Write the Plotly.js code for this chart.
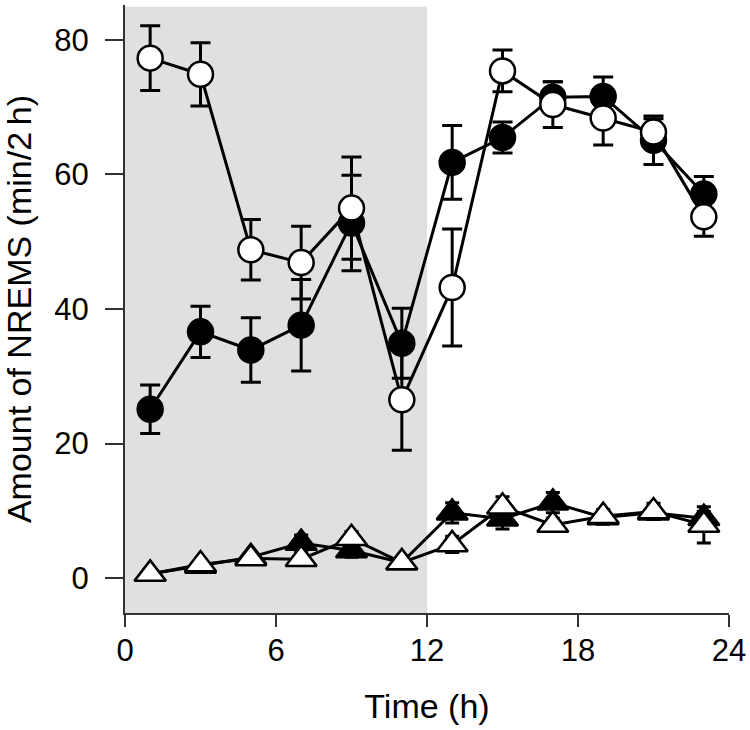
<!DOCTYPE html>
<html>
<head>
<meta charset="utf-8">
<script src="https://cdn.plot.ly/plotly-3.0.1.min.js"></script>
<style>
  body { margin: 0; background: #fff; }
  #plot { width: 750px; height: 730px; }
</style>
</head>
<body>
<div id="plot"></div>
<script>
// Time points (h), centre of each 2 h bin
const time = [1, 3, 5, 7, 9, 11, 13, 15, 17, 19, 21, 23];

// NREMS, filled circles
const nremsFilled = [25.1, 36.6, 33.9, 37.6, 52.8, 34.9, 61.8, 65.5, 71.5, 71.6, 65.1, 57.1];
const nremsFilledErr = [3.6, 3.8, 4.8, 6.8, 7.1, 5.2, 5.5, 2.3, 2.3, 2.9, 3.6, 2.6];

// NREMS, open circles
const nremsOpen = [77.3, 74.9, 48.8, 46.9, 55.0, 26.5, 43.2, 75.4, 70.4, 68.4, 66.3, 53.7];
const nremsOpenErr = [4.8, 4.7, 4.5, 5.4, 7.6, 7.5, 8.7, 3.1, 3.4, 4.0, 2.0, 2.9];

// REMS, filled triangles
const remsFilled = [0.6, 1.8, 3.1, 5.2, 4.1, 2.3, 9.7, 8.8, 11.2, 9.0, 9.7, 8.9];
const remsFilledErr = [0.4, 0.5, 0.6, 1.2, 1.0, 0.6, 1.5, 1.5, 1.5, 1.0, 1.0, 1.0];

// REMS, open triangles
const remsOpen = [0.6, 2.0, 2.9, 2.8, 5.9, 2.3, 5.0, 10.6, 7.9, 9.2, 9.9, 7.9];
const remsOpenErr = [0.3, 0.5, 0.6, 0.8, 1.0, 0.6, 1.2, 1.5, 1.0, 1.0, 1.2, 2.7];

const yTicks = [0, 20, 40, 60, 80];
const xTicks = [0, 6, 12, 18, 24];

const font = 'Liberation Sans, Arial, sans-serif';

function series(y, err, symbol, fill, size, capWidth) {
    return {
        x: time,
        y: y,
        type: 'scatter',
        mode: 'lines+markers',
        line: {color: '#000', width: 3},
        marker: {
            symbol: symbol,
            size: size,
            color: fill,
            line: {color: '#000', width: 2.5}
        },
        error_y: {
            type: 'data',
            array: err,
            visible: true,
            color: '#000',
            thickness: 3,
            width: capWidth
        },
        cliponaxis: false,
        hoverinfo: 'skip'
    };
}

const data = [
    series(remsFilled, remsFilledErr, 'triangle-up', '#000', 27, 7),
    series(remsOpen, remsOpenErr, 'triangle-up', '#fff', 27, 7),
    series(nremsFilled, nremsFilledErr, 'circle', '#000', 25, 10),
    series(nremsOpen, nremsOpenErr, 'circle', '#fff', 25, 10)
];

const layout = {
    width: 750,
    height: 730,
    showlegend: false,
    paper_bgcolor: '#fff',
    plot_bgcolor: '#fff',
    margin: {l: 125, r: 21, t: 5, b: 117},
    font: {family: font, color: '#000'},
    xaxis: {
        range: [0, 24],
        tickvals: xTicks,
        ticks: 'outside',
        ticklen: 12,
        tickwidth: 2,
        tickcolor: '#333',
        showline: true,
        linecolor: '#333',
        linewidth: 2,
        showgrid: false,
        zeroline: false,
        tickfont: {size: 31},
        ticklabelstandoff: -3,
        title: {text: 'Time (h)', font: {size: 34}, standoff: 27}
    },
    yaxis: {
        range: [-5.2, 85.2],
        tickvals: yTicks,
        ticks: 'outside',
        ticklen: 18,
        tickwidth: 2,
        tickcolor: '#333',
        showline: true,
        linecolor: '#333',
        linewidth: 2,
        showgrid: false,
        zeroline: false,
        tickfont: {size: 31},
        ticklabelstandoff: 10,
        title: {text: 'Amount of NREMS (min/2\u2009h)', font: {size: 34}, standoff: 12}
    },
    shapes: [{
        type: 'rect',
        layer: 'below',
        xref: 'x',
        yref: 'paper',
        x0: 0,
        x1: 12,
        y0: 0,
        y1: 0.997,
        fillcolor: '#e0e0e0',
        line: {width: 0}
    }]
};

Plotly.newPlot('plot', data, layout, {staticPlot: true});
</script>
</body>
</html>
